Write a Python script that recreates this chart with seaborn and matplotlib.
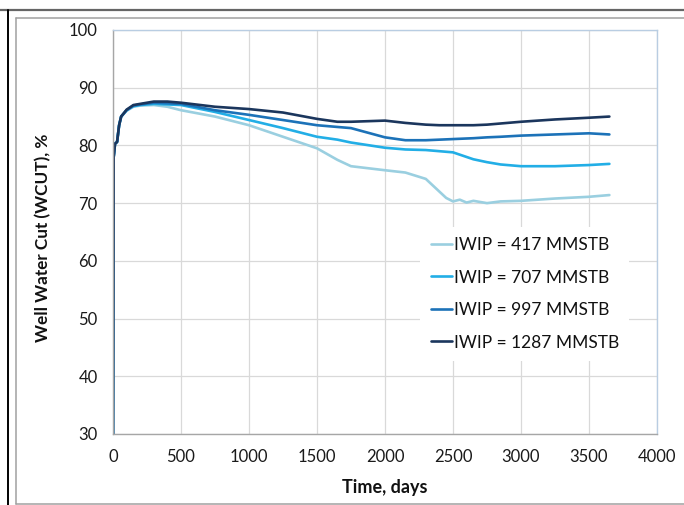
import matplotlib
matplotlib.use("Agg")
import matplotlib.pyplot as plt
from matplotlib.lines import Line2D
import seaborn as sns
import pandas as pd

days = [0, 5, 15, 30, 45, 60, 100, 150, 200, 300, 400, 500, 750, 1000, 1250,
        1500, 1650, 1750, 2000, 2150, 2300, 2400, 2450, 2500, 2550, 2600,
        2650, 2750, 2850, 3000, 3250, 3500, 3650]

wcut_417 = [30, 78, 80.3, 80.6, 83.5, 85.0, 86.0, 86.7, 86.9, 87.0, 86.7, 86.1,
            85.0, 83.5, 81.5, 79.5, 77.5, 76.4, 75.7, 75.3, 74.2, 72.0, 70.9,
            70.3, 70.6, 70.1, 70.4, 70.0, 70.3, 70.4, 70.8, 71.1, 71.4]
wcut_707 = [30, 78, 80.3, 80.6, 83.5, 85.0, 86.1, 86.8, 87.0, 87.2, 87.1, 87.0,
            85.8, 84.4, 83.0, 81.5, 81.0, 80.5, 79.6, 79.3, 79.2, 79.0, 78.9,
            78.8, 78.4, 78.0, 77.6, 77.1, 76.7, 76.4, 76.4, 76.6, 76.8]
wcut_997 = [30, 78, 80.3, 80.6, 83.5, 85.0, 86.1, 86.9, 87.1, 87.4, 87.3, 87.2,
            86.1, 85.3, 84.4, 83.5, 83.2, 83.0, 81.4, 80.9, 80.9, 81.0, 81.05,
            81.1, 81.15, 81.2, 81.25, 81.4, 81.5, 81.7, 81.9, 82.1, 81.9]
wcut_1287 = [30, 78, 80.3, 80.6, 83.5, 85.0, 86.2, 87.0, 87.2, 87.6, 87.6, 87.4,
             86.7, 86.3, 85.7, 84.6, 84.1, 84.1, 84.3, 83.9, 83.6, 83.5, 83.5,
             83.5, 83.5, 83.5, 83.5, 83.6, 83.8, 84.1, 84.5, 84.8, 85.0]

labels = ["IWIP = 417 MMSTB", "IWIP = 707 MMSTB",
          "IWIP = 997 MMSTB", "IWIP = 1287 MMSTB"]
colors = ["#9ACFE0", "#22AEE6", "#1C72B8", "#1B365D"]

frames = []
for lab, vals in zip(labels, [wcut_417, wcut_707, wcut_997, wcut_1287]):
    frames.append(pd.DataFrame({"Time": days, "WCUT": vals, "Case": lab}))
df = pd.concat(frames, ignore_index=True)

sns.set_theme(style="whitegrid")
plt.rcParams["font.family"] = ["Lato", "DejaVu Sans"]

fig = plt.figure(figsize=(6.84, 5.05), dpi=100)
ax = fig.add_axes([0.1652, 0.1406, 0.7953, 0.8000])

sns.lineplot(data=df, x="Time", y="WCUT", hue="Case", hue_order=labels,
             palette=colors, linewidth=1.9, ax=ax, legend=False)

ax.set_xlim(0, 4000)
ax.set_ylim(30, 100)
ax.set_xticks(range(0, 4001, 500))
ax.set_yticks(range(30, 101, 10))
ax.grid(True, color="#D9D9D9", linewidth=0.9)
ax.set_facecolor("white")
for side in ["left", "bottom"]:
    ax.spines[side].set_color("#A6A6A6")
    ax.spines[side].set_linewidth(1.0)
for side in ["top", "right"]:
    ax.spines[side].set_color("#B9CDE2")
    ax.spines[side].set_linewidth(1.0)
ax.tick_params(axis="both", which="major", direction="out", length=5,
               width=1, color="#A6A6A6", labelsize=12, labelcolor="#1a1a1a")
ax.tick_params(axis="x", pad=6)
ax.tick_params(axis="y", pad=6)
ax.set_xlabel("Time, days", fontsize=13, fontweight="bold", color="#111111",
              labelpad=10)
ax.set_ylabel("Well Water Cut (WCUT), %", fontsize=12.3, fontweight="bold",
              color="#111111", labelpad=12)
ax.yaxis.set_label_coords(-0.113, 0.485)

handles = [Line2D([0], [0], color=c, linewidth=1.9) for c in colors]
leg = ax.legend(handles, labels, loc="center", bbox_to_anchor=(0.757, 0.347),
                frameon=True, facecolor="white", edgecolor="none",
                framealpha=1.0, fontsize=12.5, handlelength=1.2,
                handletextpad=0.12, labelspacing=0.95, borderpad=0.6)
for t in leg.get_texts():
    t.set_color("#111111")

# outer frame decorations
fig.add_artist(Line2D([0, 1], [1 - 10 / 505, 1 - 10 / 505], color="#666666",
                      linewidth=1.6, transform=fig.transFigure))
fig.add_artist(Line2D([8 / 684, 8 / 684], [0, 1 - 10 / 505], color="#000000",
                      linewidth=1.4, transform=fig.transFigure))
fig.add_artist(Line2D([16 / 684, 1], [1 - 18 / 505, 1 - 18 / 505],
                      color="#A0A0A0", linewidth=1.1, transform=fig.transFigure))
fig.add_artist(Line2D([16 / 684, 16 / 684], [1 - 503.5 / 505, 1 - 18 / 505],
                      color="#A0A0A0", linewidth=1.1, transform=fig.transFigure))
fig.add_artist(Line2D([16 / 684, 1], [1 - 503.5 / 505, 1 - 503.5 / 505],
                      color="#A0A0A0", linewidth=1.1, transform=fig.transFigure))

fig.savefig("out.png", dpi=100)
